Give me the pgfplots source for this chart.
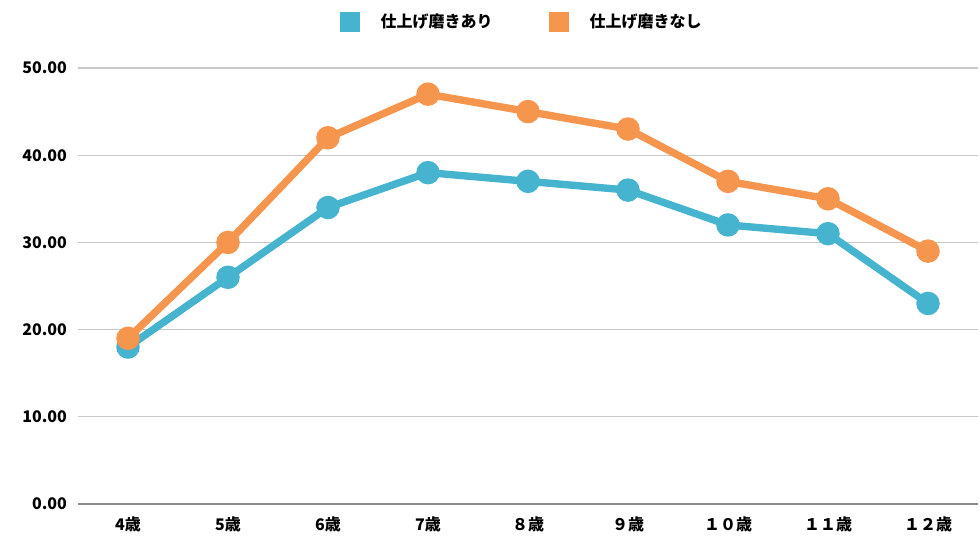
\documentclass[border=0pt]{standalone}
\usepackage{pgfplots}
\pgfplotsset{compat=1.18}
\usepackage{fontspec}
\setmainfont{Noto Sans CJK JP}
\definecolor{cblue}{HTML}{47B4CF}
\definecolor{corange}{HTML}{F5954E}
\definecolor{gridc}{HTML}{C8C8C8}
\definecolor{axc}{HTML}{8A8A8A}
\begin{document}
\begin{tikzpicture}
\path[use as bounding box] (0,0) rectangle (490pt,275.5pt);
\begin{axis}[
  at={(39pt,23.5pt)}, anchor=south west,
  scale only axis, width=450pt, height=218pt,
  xmin=-0.5, xmax=8.5, ymin=0, ymax=50,
  clip=false,
  axis line style={draw=none},
  xtick={0,...,8},
  xticklabels={4歳,5歳,6歳,7歳,８歳,９歳,１０歳,１１歳,１２歳},
  ytick={0,10,...,50},
  major tick length=0pt,
  ymajorgrids, grid style={gridc, line width=0.7pt},
  extra y ticks={0}, extra y tick labels={},
  extra y tick style={grid style={axc, line width=1.2pt}},
  yticklabel style={font=\fontsize{8}{9}\selectfont\bfseries, xshift=-2pt},
  xticklabel style={font=\fontsize{8}{9}\selectfont\bfseries, yshift=-3pt},
  /pgf/number format/assume math mode=true,
  yticklabel={\pgfmathprintnumber[fixed,fixed zerofill,precision=2]{\tick}},
  legend columns=2,
  legend style={at={(0.494,1)}, anchor=center, yshift=23pt, draw=none, fill=none,
    font=\fontsize{8}{9}\selectfont\bfseries,
    /tikz/every even column/.append style={column sep=26pt}},
  legend image code/.code={\fill[#1, draw=none] (0pt,-5pt) rectangle (10pt,5pt);},
]
\addplot[cblue, line width=3.7pt, mark=*, mark size=4pt, mark options={fill=cblue, draw=none}]
  coordinates {(0,18) (1,26) (2,34) (3,38) (4,37) (5,36) (6,32) (7,31) (8,23)};
\addlegendentry{\hspace{8.5pt}仕上げ磨きあり}
\addplot[corange, line width=3.7pt, mark=*, mark size=4pt, mark options={fill=corange, draw=none}]
  coordinates {(0,19) (1,30) (2,42) (3,47) (4,45) (5,43) (6,37) (7,35) (8,29)};
\addlegendentry{\hspace{8.5pt}仕上げ磨きなし}
\end{axis}
\end{tikzpicture}
\end{document}
